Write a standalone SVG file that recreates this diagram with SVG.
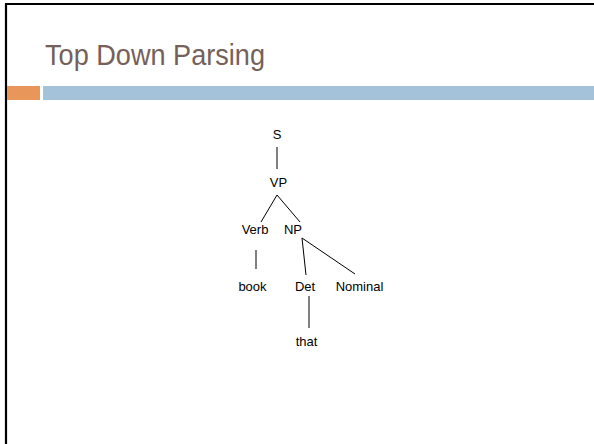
<svg xmlns="http://www.w3.org/2000/svg" width="594" height="444" viewBox="0 0 594 444">
<style>
.lbl{font-family:"Liberation Sans",Arial,sans-serif;font-size:13px;fill:#000;text-anchor:middle}
.edge{stroke:#000;stroke-width:1;fill:none}
</style>
<rect width="594" height="444" fill="#fff"/>
<g id="frame">
<line x1="5" y1="4" x2="594" y2="4" stroke="#000" stroke-width="2.2"/>
<line x1="6" y1="3" x2="6" y2="444" stroke="#000" stroke-width="2.2"/>
</g>
<g id="title">
<text x="45" y="65" font-family="'Liberation Sans',Arial,sans-serif" font-size="30" fill="#76605a" textLength="220" lengthAdjust="spacingAndGlyphs">Top Down Parsing</text>
</g>
<g id="bars">
<rect x="7" y="86" width="33" height="14" fill="#e8965a"/>
<rect x="43" y="86" width="551" height="14" fill="#a5c2db"/>
</g>
<g id="connectors">
<line class="edge" x1="277" y1="147" x2="277" y2="169"/>
<line class="edge" x1="277" y1="195" x2="261" y2="222"/>
<line class="edge" x1="277" y1="195" x2="300" y2="222"/>
<line class="edge" x1="256" y1="250" x2="256" y2="269"/>
<line class="edge" x1="302" y1="238" x2="306" y2="275"/>
<line class="edge" x1="302" y1="238" x2="355" y2="274"/>
<line class="edge" x1="309" y1="296" x2="309" y2="328"/>
</g>
<g id="node-S"><text class="lbl" x="277" y="139">S</text></g>
<g id="node-VP"><text class="lbl" x="278.5" y="187">VP</text></g>
<g id="node-Verb"><text class="lbl" x="255" y="234">Verb</text></g>
<g id="node-NP"><text class="lbl" x="293" y="234">NP</text></g>
<g id="node-book"><text class="lbl" x="252.5" y="291">book</text></g>
<g id="node-Det"><text class="lbl" x="305" y="291">Det</text></g>
<g id="node-Nominal"><text class="lbl" x="359.5" y="291">Nominal</text></g>
<g id="node-that"><text class="lbl" x="306.5" y="346">that</text></g>
</svg>
